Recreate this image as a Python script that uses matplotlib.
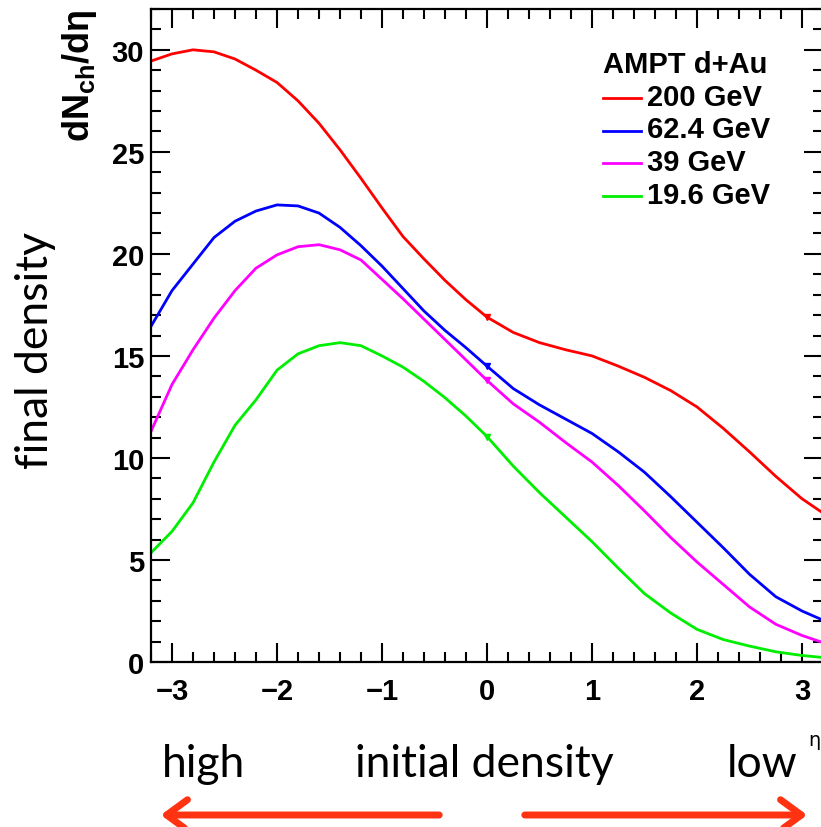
import matplotlib
matplotlib.use('Agg')
import matplotlib.pyplot as plt
from matplotlib import font_manager
from matplotlib.lines import Line2D
from matplotlib.patches import FancyArrowPatch
from matplotlib.ticker import MultipleLocator

# ROOT style bold labels look condensed; use the narrow face if it is there
names = {f.name for f in font_manager.fontManager.ttflist}
if 'Liberation Sans Narrow' in names:
    bold_font, tick_size, leg_size = 'Liberation Sans Narrow', 24, 26
else:
    bold_font, tick_size, leg_size = 'Liberation Sans', 21, 21

plt.rcParams['mathtext.fontset'] = 'custom'
plt.rcParams['mathtext.rm'] = 'Liberation Sans:bold'
plt.rcParams['mathtext.bf'] = 'Liberation Sans:bold'
plt.rcParams['mathtext.it'] = 'Liberation Sans:bold'

# ---- data ----
eta = [-3.2, -3.0, -2.8, -2.6, -2.4, -2.2, -2.0, -1.8, -1.6, -1.4, -1.2, -1.0,
       -0.8, -0.6, -0.4, -0.2, 0.0, 0.25, 0.5, 0.75, 1.0, 1.25, 1.5, 1.75,
       2.0, 2.25, 2.5, 2.75, 3.0, 3.2]

dn_200 = [29.45, 29.8, 30.0, 29.9, 29.55, 29.0, 28.4, 27.5, 26.4, 25.1, 23.7, 22.25,
          20.85, 19.75, 18.7, 17.75, 16.9, 16.15, 15.65, 15.3, 15.0, 14.5, 13.95, 13.3,
          12.5, 11.45, 10.3, 9.1, 8.0, 7.3]
dn_62 = [16.45, 18.2, 19.5, 20.8, 21.6, 22.1, 22.4, 22.35, 22.0, 21.3, 20.4, 19.4,
         18.3, 17.2, 16.25, 15.4, 14.5, 13.4, 12.6, 11.9, 11.2, 10.3, 9.3, 8.1,
         6.85, 5.6, 4.3, 3.2, 2.5, 2.05]
dn_39 = [11.3, 13.6, 15.3, 16.85, 18.2, 19.3, 19.95, 20.35, 20.45, 20.2, 19.7, 18.75,
         17.8, 16.8, 15.8, 14.8, 13.8, 12.65, 11.75, 10.75, 9.8, 8.65, 7.4, 6.1,
         4.9, 3.8, 2.7, 1.85, 1.3, 0.95]
dn_19 = [5.35, 6.4, 7.8, 9.8, 11.6, 12.85, 14.3, 15.1, 15.5, 15.65, 15.5, 15.0,
         14.45, 13.75, 12.95, 12.05, 11.05, 9.6, 8.3, 7.1, 5.9, 4.6, 3.35, 2.4,
         1.6, 1.1, 0.78, 0.5, 0.32, 0.22]

labels = ['200 GeV', '62.4 GeV', '39 GeV', '19.6 GeV']
series = [dn_200, dn_62, dn_39, dn_19]
colors = ['#ff0000', '#0000ff', '#ff00ff', '#00ee00']

W, H = 821, 828
fig = plt.figure(figsize=(W / 100, H / 100), dpi=100)
ax = fig.add_axes([151 / W, 165 / H, 672 / W, 653 / H])

i0 = eta.index(0.0)
for y, c, lab in zip(series, colors, labels):
    ax.plot(eta, y, color=c, lw=2.0, label=lab,
            marker='v', markersize=4, markevery=[i0])

ax.set_xlim(-3.2, 3.2)
ax.set_ylim(0, 32)
ax.xaxis.set_major_locator(MultipleLocator(1))
ax.xaxis.set_minor_locator(MultipleLocator(0.2))
ax.yaxis.set_major_locator(MultipleLocator(5))
ax.yaxis.set_minor_locator(MultipleLocator(1))
ax.tick_params(which='both', direction='in', top=True, right=True, width=1.5)
ax.tick_params(which='major', length=14)
ax.tick_params(which='minor', length=7)
ax.tick_params(axis='x', pad=11)
ax.tick_params(axis='y', pad=5)
for s in ax.spines.values():
    s.set_linewidth(1.6)
for t in ax.get_xticklabels() + ax.get_yticklabels():
    t.set_fontfamily(bold_font)
    t.set_fontweight('bold')
    t.set_fontsize(tick_size)

# legend, laid out by hand (pixel positions from the top-left corner)
def px(x, y):
    return x / W, 1 - y / H

fig.text(*px(603, 73), 'AMPT d+Au', family=bold_font, weight='bold',
         fontsize=leg_size, va='baseline')
for k, (c, lab) in enumerate(zip(colors, labels)):
    yb = 106 + 32.5 * k
    x0, y0 = px(603, yb - 7)
    x1, _ = px(641, yb - 7)
    fig.add_artist(Line2D([x0, x1], [y0, y0], color=c, lw=2.0,
                          transform=fig.transFigure))
    fig.text(*px(647, yb), lab, family=bold_font, weight='bold',
             fontsize=leg_size, va='baseline')

# axis titles
fig.text(*px(79, 9), r'$dN_{ch}/d\eta$', rotation=90, ha='center', va='top',
         fontsize=26, color='black')
fig.text(*px(808, 746), 'η', fontsize=14, ha='left', va='baseline',
         family='DejaVu Sans')

# annotations below the plot
fig.text(*px(35, 350), 'final density', rotation=90, ha='center', va='center',
         fontsize=32, family='Lato')
fig.text(*px(162, 777), 'high', fontsize=32, family='Lato', va='baseline')
fig.text(*px(355, 777), 'initial density', fontsize=32, family='Lato', va='baseline')
fig.text(*px(727, 777), 'low', fontsize=32, family='Lato', va='baseline')

arrow_col = '#ff3311'
for xa, xb in [(442, 158), (522, 810)]:
    arr = FancyArrowPatch(px(xa, 816), px(xb, 816), transform=fig.transFigure,
                          arrowstyle='->,head_width=0.55,head_length=0.75',
                          mutation_scale=20, lw=5, color=arrow_col)
    fig.patches.append(arr)

fig.savefig('out.png', dpi=100)
